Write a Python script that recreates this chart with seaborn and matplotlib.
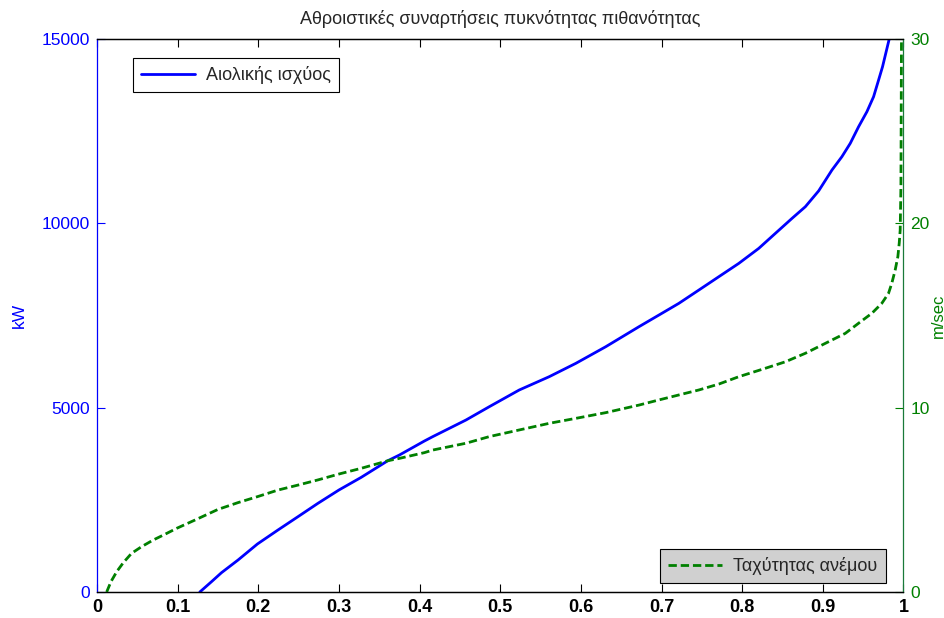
import matplotlib
matplotlib.use("Agg")
import matplotlib.pyplot as plt
import seaborn as sns
import pandas as pd

# Cumulative probability vs wind power (kW)
power_prob = [0.1275, 0.142, 0.1543, 0.1749, 0.1989, 0.2244, 0.2492, 0.2739,
              0.3, 0.3276, 0.3606, 0.375, 0.406, 0.4162, 0.4575, 0.4864,
              0.5235, 0.5607, 0.5937, 0.6308, 0.672, 0.6968, 0.7215, 0.7463,
              0.771, 0.7958, 0.8205, 0.8412, 0.8618, 0.8783, 0.8948, 0.9113,
              0.9236, 0.934, 0.9443, 0.9546, 0.9629, 0.9691, 0.974, 0.978,
              0.9823]
power_kw = [0, 280, 523, 868, 1302, 1682, 2043, 2405,
            2767, 3110, 3561, 3716, 4096, 4213, 4665, 5026,
            5479, 5840, 6202, 6653, 7196, 7513, 7830, 8191,
            8552, 8914, 9320, 9729, 10135, 10451, 10880, 11446,
            11807, 12170, 12620, 13027, 13434, 13886, 14247, 14610,
            15000]

# Cumulative probability vs wind speed (m/sec)
speed_prob = [0.012, 0.0173, 0.0244, 0.0326, 0.0429, 0.0553, 0.0697, 0.0842,
              0.0986, 0.1213, 0.150, 0.1749, 0.1988, 0.2244, 0.2492, 0.2739,
              0.3, 0.3276, 0.3606, 0.375, 0.406, 0.4162, 0.4575, 0.4864,
              0.5235, 0.5607, 0.5937, 0.6308, 0.672, 0.6968, 0.7215, 0.7463,
              0.771, 0.7958, 0.8247, 0.8536, 0.8783, 0.9031, 0.9278, 0.9443,
              0.9608, 0.9731, 0.9814, 0.9855, 0.9897, 0.993, 0.9947, 0.9959,
              0.9968, 0.9975]
speed_ms = [0, 0.56, 1.1, 1.59, 2.1, 2.46, 2.82, 3.13,
            3.45, 3.9, 4.48, 4.85, 5.17, 5.53, 5.8, 6.08,
            6.4, 6.71, 7.12, 7.25, 7.56, 7.7, 8.07, 8.43,
            8.79, 9.15, 9.42, 9.73, 10.14, 10.42, 10.69, 10.96,
            11.28, 11.68, 12.08, 12.49, 12.95, 13.49, 14.03, 14.58,
            15.12, 15.66, 16.2, 16.75, 17.47, 18.19, 18.92, 19.64,
            22.0, 30.0]

x_ticks = [0, 0.1, 0.2, 0.3, 0.4, 0.5, 0.6, 0.7, 0.8, 0.9, 1]
left_ticks = [0, 5000, 10000, 15000]
right_ticks = [0, 10, 20, 30]

title = "Αθροιστικές συναρτήσεις πυκνότητας πιθανότητας"
power_label = "Αιολικής ισχύος"
speed_label = "Ταχύτητας ανέμου"

sns.set_theme(style="white")
plt.rcParams["font.family"] = ["Liberation Sans", "DejaVu Sans"]

BLUE = "#0000ff"
GREEN = "#008000"

fig = plt.figure(figsize=(9.45, 6.18), dpi=100)
ax = fig.add_axes([97 / 945, 1 - 592 / 618, 806.5 / 945, 553 / 618])

df_p = pd.DataFrame({"p": power_prob, "kw": power_kw})
df_s = pd.DataFrame({"p": speed_prob, "ms": speed_ms})

sns.lineplot(data=df_p, x="p", y="kw", ax=ax, color=BLUE, linewidth=2.0,
             estimator=None, sort=False, label=power_label)
ax.set_xlim(0, 1)
ax.set_ylim(0, 15000)
ax.set_xticks(x_ticks)
ax.set_xticklabels(["0" if t == 0 else ("1" if t == 1 else f"{t:g}") for t in x_ticks],
                   fontweight="bold")
ax.set_yticks(left_ticks)
ax.set_yticklabels([str(t) for t in left_ticks])
ax.set_xlabel("")
ax.set_ylabel("kW", color=BLUE, fontsize=12.5, va="center", ha="center")
ax.yaxis.set_label_coords(-0.0967, 0.5)
ax.set_title(title, fontsize=13, pad=11)

ax.tick_params(axis="x", direction="in", length=6, width=0.8, colors="black",
               labelsize=13, pad=5, top=True, bottom=True)
ax.tick_params(axis="y", direction="in", length=6, width=0.8, colors=BLUE,
               labelsize=12.5, pad=5, left=True, right=False)

leg1 = ax.legend(loc="upper left", bbox_to_anchor=(0.0446, 0.9656),
                 borderaxespad=0, fancybox=False, edgecolor="black",
                 framealpha=1, fontsize=13, handlelength=3.0,
                 borderpad=0.45, handletextpad=0.6)
leg1.get_frame().set_linewidth(0.8)

ax2 = ax.twinx()
sns.lineplot(data=df_s, x="p", y="ms", ax=ax2, color=GREEN, linewidth=2.0,
             linestyle=(0, (3.0, 1.4)), estimator=None, sort=False,
             label=speed_label)
ax2.set_xlim(0, 1)
ax2.set_ylim(0, 30)
ax2.set_yticks(right_ticks)
ax2.set_yticklabels([str(t) for t in right_ticks])
ax2.set_ylabel("m/sec", color=GREEN, fontsize=12, va="center", ha="center")
ax2.yaxis.set_label_coords(1.0435, 0.5)
ax2.tick_params(axis="y", direction="in", length=6, width=0.8, colors=GREEN,
                labelsize=12.5, pad=5, right=True, left=False)

leg2 = ax2.legend(loc="lower right", bbox_to_anchor=(0.9777, 0.0163),
                  borderaxespad=0, fancybox=False, edgecolor="black",
                  facecolor="#d0d0d0", framealpha=1, fontsize=13,
                  handlelength=3.0, borderpad=0.45, handletextpad=0.6)
leg2.get_frame().set_linewidth(0.8)

for a in (ax, ax2):
    for s in a.spines.values():
        s.set_linewidth(0.9)
        s.set_visible(True)
ax.spines["left"].set_color(BLUE)
ax.spines["right"].set_visible(False)
ax.spines["top"].set_color("black")
ax.spines["bottom"].set_color("black")
ax2.spines["left"].set_visible(False)
ax2.spines["right"].set_color("#1a7a3a")
ax2.spines["top"].set_color("black")
ax2.spines["bottom"].set_color("black")

fig.savefig("out.png", dpi=100, facecolor="white")
